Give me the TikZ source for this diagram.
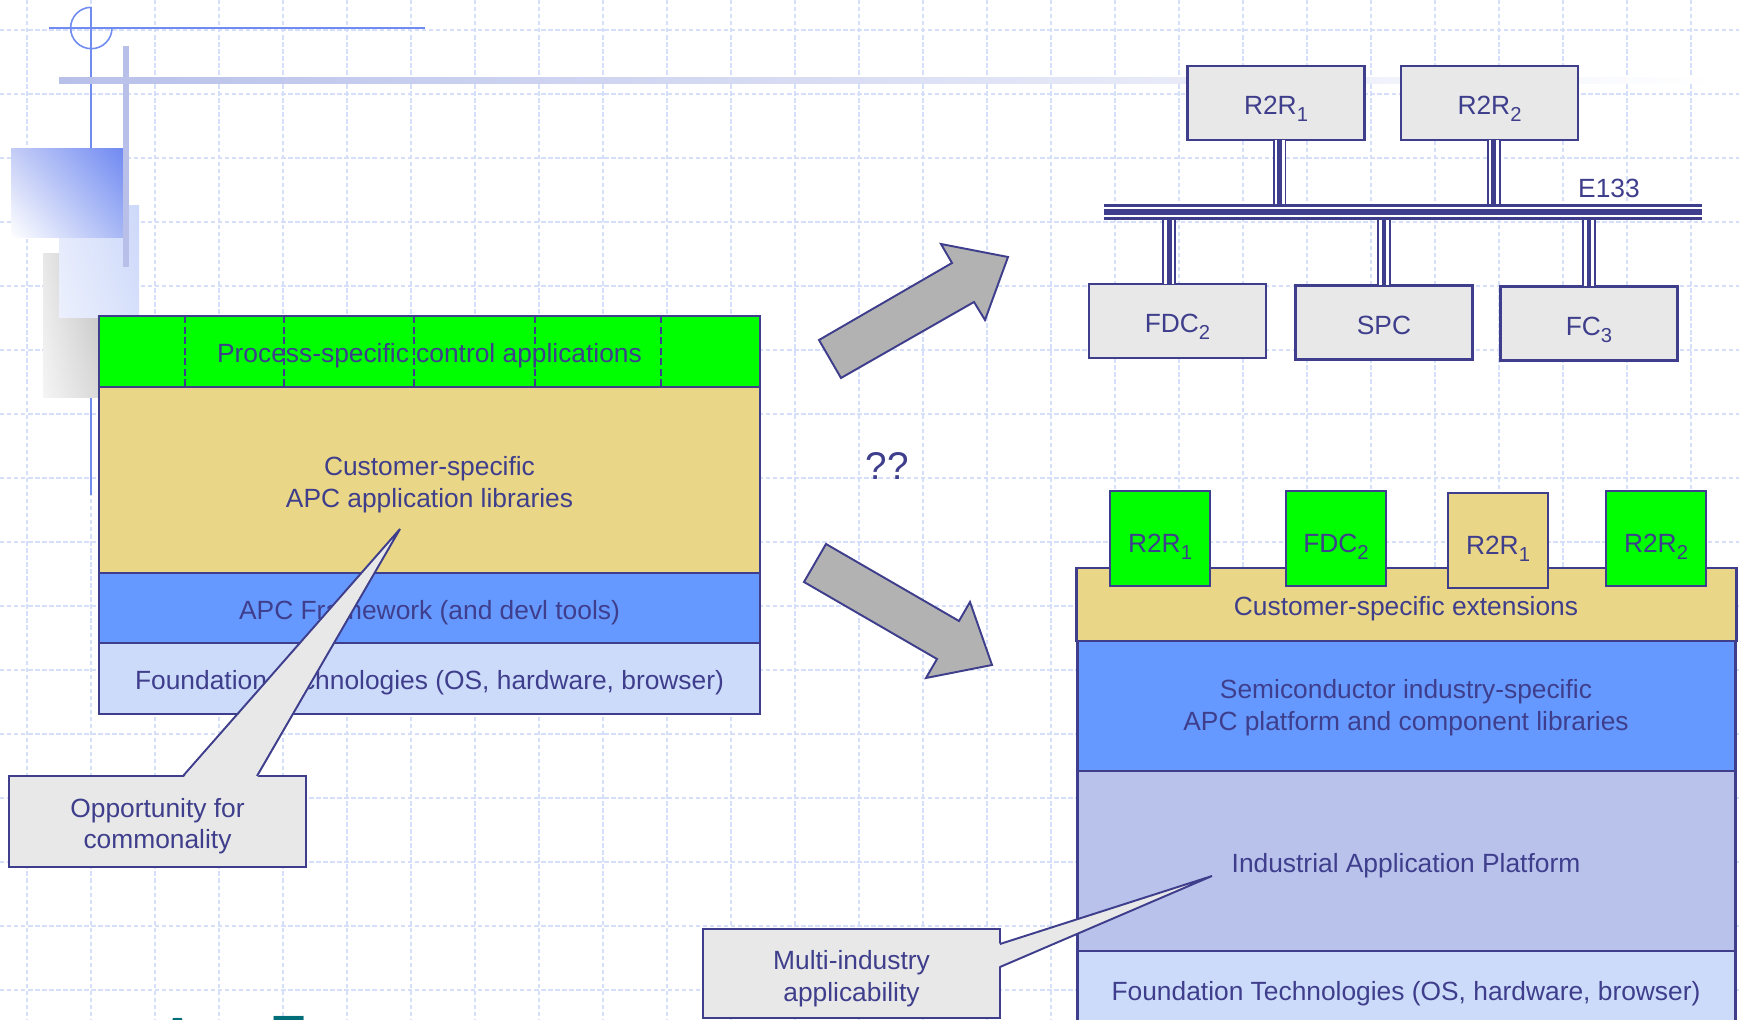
\documentclass[tikz,border=0pt]{standalone}
\usepackage{fontspec}
\setmainfont{Liberation Sans}
\usetikzlibrary{positioning, shadings}
\definecolor{ink}{RGB}{62,62,140}
\definecolor{procgreen}{RGB}{0,255,0}
\definecolor{custyellow}{RGB}{233,214,134}
\definecolor{fwblue}{RGB}{102,153,255}
\definecolor{foundblue}{RGB}{205,219,250}
\definecolor{platblue}{RGB}{184,194,235}
\definecolor{boxgray}{RGB}{232,232,232}
\definecolor{arrowgray}{RGB}{178,178,178}
\definecolor{gridblue}{RGB}{214,223,250}
\definecolor{decoblue}{RGB}{112,140,240}
\definecolor{decopale}{RGB}{184,192,234}
\definecolor{logoteal}{RGB}{0,110,120}
\definecolor{paleLL}{RGB}{236,240,253}
\definecolor{paleUL}{RGB}{228,234,252}
\definecolor{paleLR}{RGB}{214,224,251}
\definecolor{paleUR}{RGB}{205,216,250}
\definecolor{sqUL}{RGB}{196,205,246}
\definecolor{sqLR}{RGB}{168,184,245}
\definecolor{sqUR}{RGB}{112,138,242}
\newcommand{\pxu}{0.02cm}
\newcommand{\idx}[1]{\raisebox{-4pt}[0pt][0pt]{\fontsize{11.5}{12}\selectfont #1}}
\newcommand{\topstrut}[1]{\vrule width 0pt height #1\relax}

\begin{document}
\begin{tikzpicture}[
                x=\pxu, y=-\pxu,
                every node/.style={
                    text=ink,
                    font=\fontsize{15}{18}\selectfont,
                    inner sep=0pt,
                    outer sep=0pt,
                },
                layer/.style={
                    draw=ink,
                    line width=1.7pt,
                    align=center,
                    execute at begin node={\topstrut{16pt}},
                },
                unit/.style={
                    draw=ink,
                    line width=1.4pt,
                    fill=boxgray,
                    minimum width=177*\pxu,
                    minimum height=74*\pxu,
                    execute at begin node={\topstrut{13.5pt}},
                },
                module/.style={
                    draw=ink,
                    line width=1.4pt,
                    minimum width=100*\pxu,
                    minimum height=95*\pxu,
                    execute at begin node={\topstrut{16pt}},
                },
                callout/.style={
                    draw=ink,
                    line width=1.1pt,
                    fill=boxgray,
                    align=center,
                    minimum width=297*\pxu,
                    minimum height=91*\pxu,
                },
                pointer/.style={draw=ink, line width=1.1pt, line join=miter},
                link/.style={
                    draw=ink, line width=7.9pt,
                    postaction={draw=white, line width=5.7pt},
                    postaction={draw=ink, line width=2.8pt},
                },
                bus/.style={
                    draw=ink, line width=8.8pt,
                    postaction={draw=white, line width=6.2pt},
                    postaction={draw=ink, line width=3pt},
                },
                divider/.style={draw=ink, line width=0.85pt, dash pattern=on 4pt off 2pt},
                blockarrow/.style={fill=arrowgray, draw=ink, line width=1.1pt, line join=miter},
                gridline/.style={gridblue, line width=0.8pt, dash pattern=on 2.5pt off 1.5pt},
            ]
            \fill[white] (0,0) rectangle (1739,1020);
            \useasboundingbox (0,0) rectangle (1739,1020);

            \foreach \gx in {0,...,26}
                \draw[gridline] ({27+64*\gx},0) -- ({27+64*\gx},1020);
            \foreach \gy in {0,...,15}
                \draw[gridline] (0,{30+64*\gy}) -- (1739,{30+64*\gy});

            \draw[decoblue, line width=0.9pt] (49,28) -- (425,28);
            \draw[decoblue, line width=0.9pt] (112,28) arc[start angle=0, end angle=-270, radius=0.414cm];
            \draw[decoblue, line width=0.9pt] (91,7) -- (91,495);
            \shade[lower left=gray!8, upper left=gray!18, lower right=gray!30, upper right=gray!50]
                (43,254) rectangle (100,398);
            \shade[lower left=paleLL, upper left=paleUL, lower right=paleLR, upper right=paleUR]
                (59,206) rectangle (139,318);
            \shade[lower left=white, upper left=sqUL, lower right=sqLR, upper right=sqUR]
                (11,149) rectangle (123,238);
            \fill[decopale] (123,46) rectangle (129,267);
            \shade[left color=decopale, right color=white] (59,78) rectangle (1720,84);

            \node[layer, fill=procgreen, minimum width=661*\pxu, minimum height=71*\pxu] (proc) at (429.5,351.5)
                {Process-specific control applications};
            \node[layer, fill=custyellow, minimum width=661*\pxu, minimum height=186*\pxu, below=0pt of proc] (custlib)
                {\topstrut{16pt}Customer-specific\\APC application libraries};
            \node[layer, fill=fwblue, minimum width=661*\pxu, minimum height=70*\pxu, below=0pt of custlib] (apcfw)
                {APC Framework (and devl tools)};
            \node[layer, fill=foundblue, minimum width=661*\pxu, minimum height=71*\pxu, below=0pt of apcfw] (foundL)
                {Foundation Technologies (OS, hardware, browser)};
            \foreach \xd in {185,284,414,535,661}
                \draw[divider] (\xd,316) -- (\xd,387);

            \node[unit] (r2rA) at (1276,103) {R2R\idx{1}};
            \node[unit] (r2rB) at (1489.5,103) {R2R\idx{2}};
            \node[unit] (fdc) at (1177.5,321) {FDC\idx{2}};
            \node[unit] (spc) at (1384,322.5) {SPC};
            \node[unit] (fc) at (1589,323.5) {FC\idx{3}};
            \coordinate (busW) at (1104,212);
            \coordinate (busE) at (1702,212);
            \draw[link] ([xshift=2pt]r2rA.south) -- ([xshift=2pt]r2rA.south |- busW);
            \draw[link] ([xshift=2.5pt]r2rB.south) -- ([xshift=2.5pt]r2rB.south |- busW);
            \draw[link] ([xshift=-4.8pt]fdc.north) -- ([xshift=-4.8pt]fdc.north |- busW);
            \draw[link] (spc.north) -- (spc.north |- busW);
            \draw[link] (fc.north) -- (fc.north |- busW);
            \draw[bus] (busW) -- (busE);
            \node (e133) at (1609,188) {E133};

            \draw[blockarrow] (819,340) -- (952,263) -- (941,244) -- (1008,257) -- (985,320) -- (974,302) -- (841,378) -- cycle;
            \draw[blockarrow] (826,544) -- (959,621) -- (970,602) -- (992,665) -- (926,678) -- (937,659) -- (804,582) -- cycle;
            \node[font=\fontsize{22}{26}\selectfont] (qq) at (887,466) {??};

            \node[layer, fill=custyellow, minimum width=660*\pxu, minimum height=73*\pxu] (ext) at (1406,604.5)
                {Customer-specific extensions};
            \node[layer, fill=fwblue, minimum width=658*\pxu, minimum height=130*\pxu, below=0pt of ext] (semi)
                {\topstrut{13pt}Semiconductor industry-specific\\APC platform and component libraries};
            \node[layer, fill=platblue, minimum width=658*\pxu, minimum height=180*\pxu, below=0pt of semi] (iap)
                {Industrial Application Platform};
            \node[layer, fill=foundblue, minimum width=658*\pxu, minimum height=76*\pxu, below=0pt of iap] (foundR)
                {Foundation Technologies (OS, hardware, browser)};
            \node[module, fill=procgreen] (modA) at (1160,538.5) {R2R\idx{1}};
            \node[module, fill=procgreen] (modB) at (1336,538.5) {FDC\idx{2}};
            \node[module, fill=custyellow] (modC) at (1498,540.5) {R2R\idx{1}};
            \node[module, fill=procgreen] (modD) at (1656,538.5) {R2R\idx{2}};

            \node[callout] (opp) at (157.5,821.5) {\topstrut{16pt}Opportunity for\\commonality};
            \coordinate (oppL) at (183,776);
            \coordinate (oppR) at (257,776);
            \coordinate (oppTip) at (400,529);
            \fill[boxgray] ([yshift=-1.2pt]oppL) -- (oppTip) -- ([yshift=-1.2pt]oppR) -- cycle;
            \draw[pointer] (oppL) -- (oppTip) -- (oppR);

            \node[callout, minimum height=89*\pxu] (multi) at (851.5,973.5) {\topstrut{17pt}Multi-industry\\applicability};
            \coordinate (multiT) at (1000,944);
            \coordinate (multiB) at (1000,967);
            \coordinate (multiTip) at (1212,876);
            \fill[boxgray] ([xshift=-1.2pt]multiT) -- (multiTip) -- ([xshift=-1.2pt]multiB) -- cycle;
            \draw[pointer] (multiT) -- (multiTip) -- (multiB);

            \node[font=\fontsize{29}{30}\selectfont\bfseries, text=logoteal, anchor=base] (logoA) at (178,1053) {A};
            \node[font=\fontsize{29}{30}\selectfont\bfseries, text=logoteal, anchor=base] (logoT) at (289,1051) {T};
        \end{tikzpicture}
\end{document}
